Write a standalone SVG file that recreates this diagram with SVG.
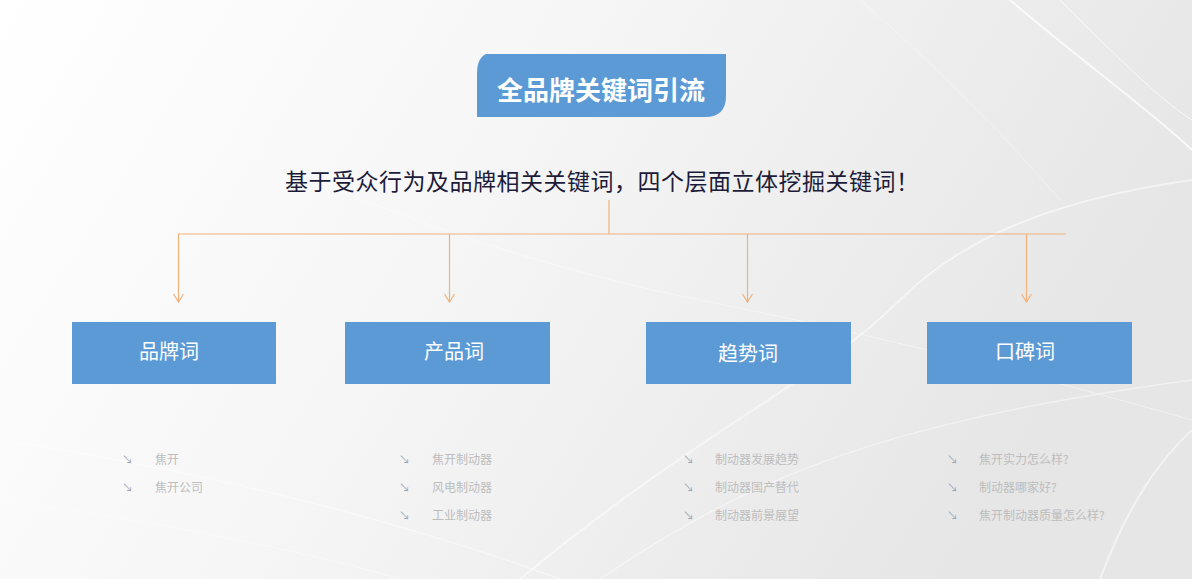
<svg xmlns="http://www.w3.org/2000/svg" width="1192" height="579" viewBox="0 0 1192 579">
  <defs>
    <linearGradient id="bg" x1="0" y1="0" x2="1" y2="0.3">
      <stop offset="0" stop-color="#ffffff"/>
      <stop offset="0.45" stop-color="#f6f6f6"/>
      <stop offset="1" stop-color="#e6e6e6"/>
    </linearGradient>
    <marker id="arr" markerWidth="12" markerHeight="12" refX="10" refY="6" orient="auto" markerUnits="userSpaceOnUse" viewBox="0 0 12 12">
      <polyline points="2,1 10,6 2,11" fill="none" stroke="#efb27c" stroke-width="1.2"/>
    </marker>
    <style>
      .cn { font-family: "Noto Sans CJK SC", "Liberation Sans", sans-serif; }
      .node rect { fill: #5b9ad5; }
      .node text { fill: #ffffff; font-size: 20px; text-anchor: middle; }
      .conn line { stroke: #efb27c; stroke-width: 1.2; fill: none; }
      .item { fill: #bdbdbd; font-size: 12px; }
      .bul { fill: #9aa6b6; font-size: 11px; }
      .deco { fill: none; stroke: #ffffff; }
    </style>
  </defs>

  <rect width="1192" height="579" fill="url(#bg)"/>
  <g id="background-lines" opacity="0.75">
    <path class="deco" d="M1010,0 C1080,60 1150,110 1192,150" stroke-width="2"/>
    <path class="deco" d="M1060,0 C1110,50 1160,100 1192,120" stroke-width="1"/>
    <path class="deco" d="M0,20 C150,110 400,240 700,300 C900,340 1050,380 1192,420" stroke-width="1" opacity="0.6"/>
    <path class="deco" d="M520,579 C700,430 820,380 900,300 C960,240 1050,200 1192,180" stroke-width="2" opacity="0.7"/>
    <path class="deco" d="M600,579 C760,470 900,420 1192,380" stroke-width="1.5" opacity="0.6"/>
    <path class="deco" d="M0,440 C200,470 400,520 560,579" stroke-width="1.5" opacity="0.6"/>
    <path class="deco" d="M0,500 C150,520 300,550 400,579" stroke-width="1" opacity="0.6"/>
    <path class="deco" d="M1100,579 C1130,500 1160,460 1192,430" stroke-width="2" opacity="0.7"/>
    <path class="deco" d="M860,0 C930,60 1000,130 1060,200" stroke-width="1" opacity="0.5"/>
  </g>

  <g id="title">
    <path d="M486,54 H726 V96 Q726,117 705,117 H477 V74 Q477,58 486,54 Z" fill="#5b9ad5"/>
    <text class="cn" x="601" y="100" font-size="26" font-weight="bold" fill="#ffffff" text-anchor="middle">全品牌关键词引流</text>
  </g>

  <g id="subtitle">
    <text class="cn" x="285" y="190" font-size="23" letter-spacing="0.5" fill="#1c1c3a">基于受众行为及品牌相关关键词，四个层面立体挖掘关键词！</text>
  </g>

  <g id="connectors" class="conn">
    <line x1="609" y1="200" x2="609" y2="234"/>
    <line x1="178" y1="234" x2="1066" y2="234"/>
    <line x1="178.5" y1="234" x2="178.5" y2="302" marker-end="url(#arr)"/>
    <line x1="449.5" y1="234" x2="449.5" y2="302" marker-end="url(#arr)"/>
    <line x1="747.5" y1="234" x2="747.5" y2="302" marker-end="url(#arr)"/>
    <line x1="1026.5" y1="234" x2="1026.5" y2="302" marker-end="url(#arr)"/>
  </g>

  <g id="node-brand" class="node">
    <rect x="72" y="322" width="204" height="62"/>
    <text class="cn" x="169" y="359">品牌词</text>
  </g>
  <g id="node-product" class="node">
    <rect x="345" y="322" width="205" height="62"/>
    <text class="cn" x="454" y="359">产品词</text>
  </g>
  <g id="node-trend" class="node">
    <rect x="646" y="322" width="205" height="62"/>
    <text class="cn" x="748" y="361">趋势词</text>
  </g>
  <g id="node-reputation" class="node">
    <rect x="927" y="322" width="205" height="62"/>
    <text class="cn" x="1025" y="359">口碑词</text>
  </g>

  <g id="list-brand">
    <text class="bul cn" x="122" y="464">↘</text>
    <text class="item cn" x="155" y="464">焦开</text>
    <text class="bul cn" x="122" y="492">↘</text>
    <text class="item cn" x="155" y="492">焦开公司</text>
  </g>
  <g id="list-product">
    <text class="bul cn" x="399" y="464">↘</text>
    <text class="item cn" x="432" y="464">焦开制动器</text>
    <text class="bul cn" x="399" y="492">↘</text>
    <text class="item cn" x="432" y="492">风电制动器</text>
    <text class="bul cn" x="399" y="520">↘</text>
    <text class="item cn" x="432" y="520">工业制动器</text>
  </g>
  <g id="list-trend">
    <text class="bul cn" x="683" y="464">↘</text>
    <text class="item cn" x="715" y="464">制动器发展趋势</text>
    <text class="bul cn" x="683" y="492">↘</text>
    <text class="item cn" x="715" y="492">制动器国产替代</text>
    <text class="bul cn" x="683" y="520">↘</text>
    <text class="item cn" x="715" y="520">制动器前景展望</text>
  </g>
  <g id="list-reputation">
    <text class="bul cn" x="947" y="464">↘</text>
    <text class="item cn" x="979" y="464">焦开实力怎么样?</text>
    <text class="bul cn" x="947" y="492">↘</text>
    <text class="item cn" x="979" y="492">制动器哪家好?</text>
    <text class="bul cn" x="947" y="520">↘</text>
    <text class="item cn" x="979" y="520">焦开制动器质量怎么样?</text>
  </g>
</svg>
